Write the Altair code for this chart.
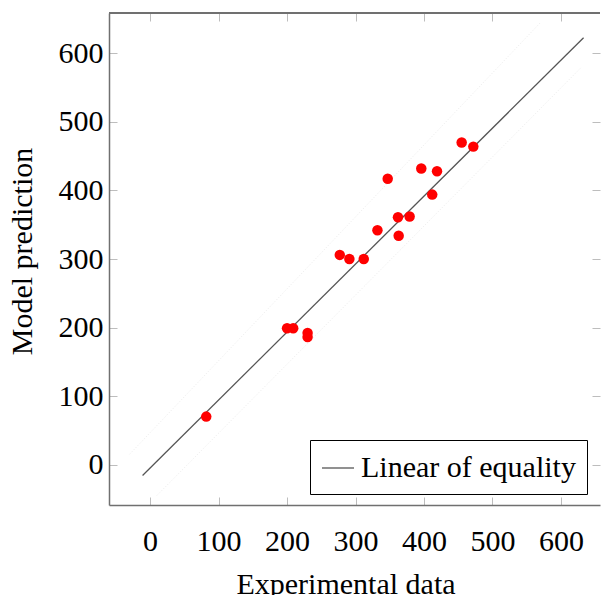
import altair as alt
import pandas as pd

# Experimental vs predicted values
exp_vals = [82, 200, 209, 230, 230, 277, 291, 312, 332, 347, 362, 363, 379, 396, 412, 419, 455, 472]
pred_vals = [70, 199, 199, 192, 186, 306, 300, 300, 342, 417, 361, 334, 362, 432, 394, 428, 470, 464]

# Equality line end points
line_x = [-11, 633]
line_y = [-16, 623]
line_label = ["Linear of equality", "Linear of equality"]

# Faint band lines
upper_x = [-30, 570]
upper_y = [15, 645]
lower_x = [10, 630]
lower_y = [-45, 580]

tick_values = [0, 100, 200, 300, 400, 500, 600]

W, H = 491, 492
FONT = "Liberation Serif"

pts = pd.DataFrame({"x": exp_vals, "y": pred_vals})
line_df = pd.DataFrame({"x": line_x, "y": line_y, "label": line_label})
band_df = pd.DataFrame({
    "x": upper_x + lower_x,
    "y": upper_y + lower_y,
    "g": ["u", "u", "l", "l"],
})

xscale = alt.Scale(domain=[-60, 657], nice=False, zero=False)
yscale = alt.Scale(domain=[-59, 659], nice=False, zero=False)

xaxis = alt.Axis(
    values=tick_values, title="Experimental data", grid=True,
    gridDash=[8, H - 16, 8, 40], gridColor="#bdbdbd", gridWidth=1,
    ticks=False, labelPadding=21, labelFont=FONT, labelFontSize=30,
    labelColor="black", titleFont=FONT, titleFontSize=30, titleFontWeight="normal",
    titleColor="black", titleY=88, titleBaseline="alphabetic", titleX=W / 2 - 9,
    domainColor="#707070", domainWidth=1.5,
)
yaxis = alt.Axis(
    values=tick_values, title="Model prediction", grid=True,
    gridDash=[8, W - 16, 8, 40], gridColor="#bdbdbd", gridWidth=1,
    ticks=False, labelPadding=6, labelFont=FONT, labelFontSize=30,
    labelColor="black", titleFont=FONT, titleFontSize=30, titleFontWeight="normal",
    titleColor="black", titleX=-102, titleY=H / 2 - 8, titleAngle=-90,
    titleBaseline="top", domainColor="#707070", domainWidth=1.5,
)

band = alt.Chart(band_df).mark_line(
    color="#ebebeb", strokeWidth=1, strokeDash=[1, 2]
).encode(
    x=alt.X("x:Q", scale=xscale, axis=xaxis),
    y=alt.Y("y:Q", scale=yscale, axis=yaxis),
    detail="g:N",
)

line = alt.Chart(line_df).mark_line(strokeWidth=1.3).encode(
    x=alt.X("x:Q", scale=xscale),
    y=alt.Y("y:Q", scale=yscale),
    color=alt.Color(
        "label:N",
        scale=alt.Scale(range=["#555555"]),
        legend=alt.Legend(
            title=None, orient="none", legendX=201, legendY=427,
            strokeColor="black", padding=11, symbolType="stroke",
            symbolSize=1024, symbolStrokeWidth=1.3, labelFont=FONT,
            labelFontSize=30, labelColor="black", labelOffset=6,
            labelLimit=400, fillColor="white",
        ),
    ),
)

points = alt.Chart(pts).mark_circle(size=110, color="#ff0000", opacity=1).encode(
    x=alt.X("x:Q", scale=xscale),
    y=alt.Y("y:Q", scale=yscale),
)

top_rule = alt.Chart(pts).mark_rule(color="#707070", strokeWidth=1.5).encode(
    x=alt.value(0), x2=alt.value(W), y=alt.value(0)
)

chart = alt.layer(band, line, points, top_rule).properties(
    width=W, height=H,
    autosize=alt.AutoSizeParams(type="none"),
    padding={"left": 109, "top": 13, "right": 1, "bottom": 90},
).configure_view(stroke=None)

chart.save("out.html", embed_options={"renderer": "svg", "actions": False})
